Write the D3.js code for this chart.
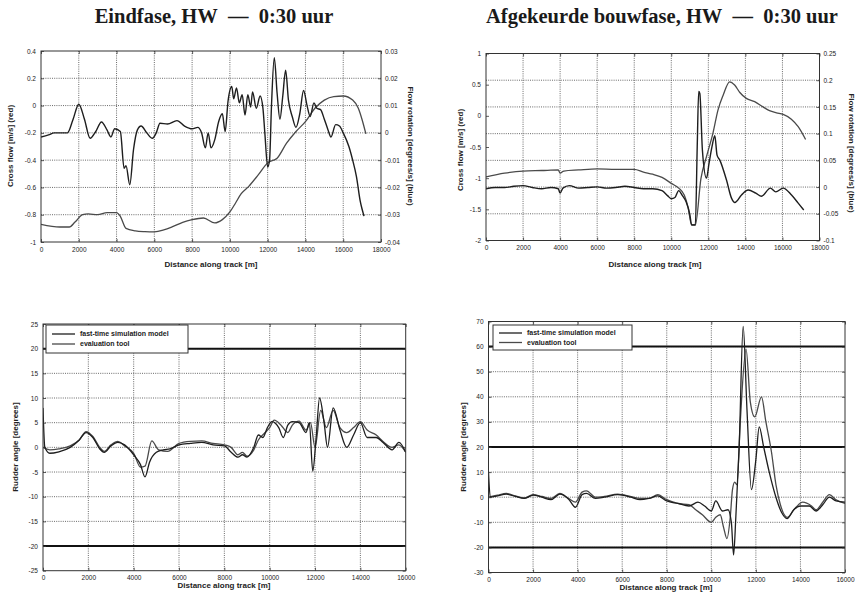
<!DOCTYPE html>
<html><head><meta charset="utf-8">
<script src="https://cdn.jsdelivr.net/npm/d3@7"></script>
<style>body{margin:0;background:#fff}svg{display:block}text{font-family:"Liberation Sans",Arial,sans-serif}</style>
</head><body><svg id="c" width="857" height="606"></svg>
<script>
// ---------- DATA ----------
const titles = ["Eindfase, HW\u2002\u2014\u20020:30 uur", "Afgekeurde bouwfase, HW\u2002\u2014\u20020:30 uur"];
const xTicks18 = [0,2000,4000,6000,8000,10000,12000,14000,16000,18000];
const xTicks16 = [0,2000,4000,6000,8000,10000,12000,14000,16000];
const tlLeftTicks = [0.4,0.2,0,-0.2,-0.4,-0.6,-0.8,-1];
const tlRightTicks = [0.03,0.02,0.01,0,-0.01,-0.02,-0.03,-0.04];
const trLeftTicks = [1,0.5,0,-0.5,-1,-1.5,-2];
const trRightTicks = [0.25,0.2,0.15,0.1,0.05,0,-0.05,-0.1];
const blTicks = [25,20,15,10,5,0,-5,-10,-15,-20,-25];
const brTicks = [70,60,50,40,30,20,10,0,-10,-20,-30];
const blLimits = [20,-20];
const brLimits = [60,20,-20];
const legendNames = ["fast-time simulation model","evaluation tool"];

// Top-left: cross flow (m/s) and flow rotation (deg/s)
const tlCrossDist = [0,400,700,1000,1400,1700,2000,2300,2600,2900,3200,3500,3700,3900,4200,4400,4500,4700,4900,5100,5300,5600,5900,6100,6300,6700,7200,7600,8000,8300,8500,8700,8850,9000,9200,9400,9600,9750,9900,10100,10200,10350,10500,10650,10800,10950,11100,11200,11400,11600,11750,11850,12000,12100,12200,12350,12500,12650,12800,12950,13100,13300,13500,13700,13900,14100,14250,14450,14600,14800,15000,15200,15350,15600,15800,16000,16300,16500,16700,16900,17000,17100];
const tlCross = [-0.23,-0.215,-0.2,-0.2,-0.2,-0.1,0.01,-0.1,-0.24,-0.19,-0.12,-0.18,-0.23,-0.17,-0.19,-0.46,-0.44,-0.58,-0.32,-0.18,-0.15,-0.2,-0.24,-0.2,-0.13,-0.135,-0.11,-0.15,-0.17,-0.16,-0.2,-0.31,-0.2,-0.31,-0.25,-0.12,-0.06,-0.19,0.03,0.14,0.05,0.13,0.02,0.08,-0.07,0.08,-0.01,0.1,-0.02,0.07,-0.02,-0.2,-0.45,-0.4,-0.01,0.35,0.09,-0.1,0.07,0.26,0.04,-0.08,-0.16,-0.06,0.11,-0.01,-0.08,0.02,-0.02,-0.03,-0.1,-0.18,-0.23,-0.14,-0.15,-0.2,-0.3,-0.4,-0.52,-0.7,-0.76,-0.81];
const tlRotDist = [0,1000,1500,1800,2200,2500,3000,3500,4000,4200,4500,5000,5500,6000,6500,7000,7500,8000,8600,9200,9600,10000,10300,10600,11000,11500,12000,12500,13000,13500,14000,14500,15000,15500,16000,16500,16800,17000,17200];
const tlRot = [-0.0335,-0.0345,-0.0345,-0.0327,-0.030,-0.0297,-0.030,-0.0292,-0.0292,-0.0306,-0.035,-0.0359,-0.0362,-0.0363,-0.0356,-0.0343,-0.0328,-0.0318,-0.0312,-0.033,-0.0318,-0.029,-0.0257,-0.0223,-0.0196,-0.0154,-0.011,-0.0093,-0.0038,0.0005,0.0041,0.009,0.012,0.0133,0.0135,0.012,0.009,0.0048,-0.0004];

// Top-right
const trCrossDist = [0,500,1000,1500,2000,2500,3000,3500,3900,4000,4150,4500,5000,5500,6000,6500,7000,7500,8000,8500,9000,9500,9800,10000,10200,10400,10600,10800,11000,11100,11300,11400,11480,11540,11680,11900,12040,12200,12350,12470,12620,12980,13250,13430,13790,14150,14560,14870,15350,15640,16040,16490,16850,17150];
const trCross = [-1.17,-1.15,-1.15,-1.13,-1.12,-1.15,-1.17,-1.15,-1.17,-1.24,-1.16,-1.12,-1.16,-1.15,-1.14,-1.16,-1.15,-1.13,-1.15,-1.17,-1.17,-1.2,-1.28,-1.33,-1.31,-1.2,-1.28,-1.38,-1.58,-1.75,-1.75,-0.5,0.39,0.36,-0.55,-1.0,-0.76,-0.49,-0.32,-0.63,-0.71,-1.03,-1.32,-1.39,-1.27,-1.19,-1.24,-1.29,-1.16,-1.22,-1.16,-1.27,-1.40,-1.51];
const trRotDist = [0,1000,2000,3000,3900,4000,4200,5000,6000,7000,8000,8500,9000,9500,10000,10400,10700,10900,11100,11300,11600,11900,12250,12520,12800,13150,13420,13700,14050,14500,14950,15300,15680,16040,16480,16850,17250];
const trRot = [0.019,0.026,0.030,0.031,0.032,0.026,0.030,0.032,0.034,0.033,0.033,0.028,0.024,0.018,0.007,-0.002,-0.015,-0.037,-0.071,-0.071,0.016,0.057,0.101,0.144,0.172,0.197,0.191,0.177,0.166,0.160,0.150,0.143,0.139,0.136,0.127,0.113,0.089];

// Bottom-left: rudder angle
const blModelDist = [0,80,300,700,1200,1600,1900,2200,2500,2700,3000,3300,3600,4000,4300,4500,4700,5000,5300,5600,6000,6500,7000,7500,8000,8300,8600,8800,9000,9300,9500,9700,9900,10100,10400,10600,10800,11000,11300,11600,11750,11900,12050,12200,12400,12550,12800,13100,13400,13700,14000,14300,14700,15000,15400,15700,16000];
const blModel = [8,0,-1.2,-0.9,0,1.5,3,2,-0.3,-1,0.3,1,0.5,-1.5,-3.5,-6,-3,-1,-0.5,-0.3,0.5,0.8,1,0.5,0.3,-1,-2,-1.5,-2,0,2.5,2,4,5.2,4,2,4.5,5.2,5,3,5,-4.8,2,10,5,0,8,3.5,0,2.5,5,2,2,1,-0.5,1,-1];
const blEvalDist = [0,300,700,1200,1600,1900,2200,2500,2700,3000,3300,3600,4000,4300,4500,4800,5100,5500,6000,6500,7000,7500,8000,8300,8600,8800,9000,9300,9500,9800,10000,10200,10500,10800,11000,11300,11600,11800,12000,12250,12500,12800,13100,13400,13700,14000,14300,14700,15000,15400,15700,16000];
const blEval = [0,-0.5,-0.3,0.3,1.5,3.2,2.2,0,-0.8,0.5,1.2,0.3,-1.2,-4,-3.8,1.3,-0.5,-0.8,0.8,1.2,1.3,0.8,0.5,0,-1.5,-1,-1.8,-0.5,1.5,3,4,5.5,4.5,3,4.5,5.3,3.5,5,0,7.5,4,7.5,4,3,4,5.2,3.5,2.5,1.2,0,0.5,-1];

// Bottom-right: rudder angle
const brModelDist = [0,80,400,800,1200,1600,2000,2400,2800,3200,3600,3900,4200,4400,4800,5200,5800,6400,6800,7200,7600,8000,8500,9000,9400,9700,10000,10200,10500,10750,10900,11000,11100,11250,11430,11600,11800,12000,12150,12350,12600,12900,13150,13400,13700,14000,14400,14700,15000,15300,15600,16000];
const brModel = [10,0,0.5,1.2,0.3,-0.5,0.8,0,-1,1.2,-0.8,-4,1,1.5,-0.5,0,1,0,-1,-0.5,0.5,-1.5,-2.5,-3.5,-2,-3.5,-5.5,-1.5,-5.5,-5,-10,-23,-8,20,68,35,3,15,28,20,10,0,-6,-8.5,-5,-3.5,-3.5,-5.5,-3,0,-1.5,-2];
const brEvalDist = [0,400,800,1200,1600,2000,2400,2800,3200,3600,3900,4200,4400,4800,5200,5800,6400,6800,7200,7600,8000,8500,9000,9300,9600,10000,10200,10400,10550,10700,10850,10950,11050,11150,11300,11560,11750,11950,12250,12450,12700,12900,13100,13400,13800,14100,14500,14700,15000,15300,15600,16000];
const brEval = [0,0.8,1.5,0.5,-0.3,1,0.3,-0.5,1.5,-0.5,-2,2,2.5,0,0.3,1.2,0.2,-0.5,-0.5,1,-1,-2.5,-3,-5,-7,-10,-8,-7,-12,-16.5,-8,3,6,5,30,59,38,32,40,30,18,5,-3,-8,-4,-2,-3.5,-5,-2,1,-1,-2.5];

// ---------- DRAWING ----------
const svg = d3.select('#c');
svg.append('rect').attr('width',857).attr('height',606).attr('fill','#fff');
const DARK = '#1e1e1e', GRAY = '#4a4a4a', AX = '#333';
const fmt = d => String(+(+d).toFixed(4));
let clipId = 0;

function panel(o){
  const g = svg.append('g');
  const x = d3.scaleLinear().domain([o.xTicks[0], o.xTicks[o.xTicks.length-1]]).range([o.left,o.right]);
  const y = d3.scaleLinear().domain([o.yTicks[o.yTicks.length-1], o.yTicks[0]]).range([o.bottom,o.top]);
  const y2 = o.y2Ticks ? d3.scaleLinear().domain([o.y2Ticks[o.y2Ticks.length-1], o.y2Ticks[0]]).range([o.bottom,o.top]) : null;
  const W = o.right-o.left, H = o.bottom-o.top;

  // grid
  const gy = o.gridY2 ? y2 : y;
  const gTicks = (o.gridY2 ? o.y2Ticks : o.yTicks).slice(1,-1);
  const grid = g.append('g').attr('stroke','#444').attr('stroke-width',0.8).attr('stroke-dasharray','1,1.2');
  grid.selectAll('.vx').data(o.xTicks.slice(1,-1)).join('line')
    .attr('x1',d=>x(d)).attr('x2',d=>x(d)).attr('y1',o.top).attr('y2',o.bottom);
  grid.selectAll('.hy').data(gTicks).join('line')
    .attr('x1',o.left).attr('x2',o.right).attr('y1',d=>gy(d)).attr('y2',d=>gy(d));

  // limit lines
  if (o.limits) {
    g.append('g').selectAll('line').data(o.limits).join('line')
      .attr('x1',o.left).attr('x2',o.right).attr('y1',d=>y(d)).attr('y2',d=>y(d))
      .attr('stroke','#111').attr('stroke-width',2);
  }

  // axes
  const styleAxis = sel => {
    sel.select('.domain').remove();
    sel.selectAll('.tick line').attr('stroke',AX).attr('stroke-width',0.8);
    sel.selectAll('.tick text').attr('fill','#222').style('font-size','6.5px').style('font-family','"Liberation Sans",Arial,sans-serif');
  };
  g.append('g').attr('transform',`translate(0,${o.bottom})`)
    .call(d3.axisBottom(x).tickValues(o.xTicks).tickFormat(fmt).tickSizeInner(-3).tickSizeOuter(0).tickPadding(5)).call(styleAxis);
  g.append('g').attr('transform',`translate(0,${o.top})`)
    .call(d3.axisTop(x).tickValues(o.xTicks).tickFormat('').tickSizeInner(-3).tickSizeOuter(0)).call(styleAxis);
  g.append('g').attr('transform',`translate(${o.left},0)`)
    .call(d3.axisLeft(y).tickValues(o.yTicks).tickFormat(fmt).tickSizeInner(-3).tickSizeOuter(0).tickPadding(5)).call(styleAxis);
  if (y2) {
    g.append('g').attr('transform',`translate(${o.right},0)`)
      .call(d3.axisRight(y2).tickValues(o.y2Ticks).tickFormat(fmt).tickSizeInner(-3).tickSizeOuter(0).tickPadding(4)).call(styleAxis);
  } else {
    g.append('g').attr('transform',`translate(${o.right},0)`)
      .call(d3.axisRight(y).tickValues(o.yTicks).tickFormat('').tickSizeInner(-3).tickSizeOuter(0)).call(styleAxis);
  }

  // series
  const id = 'clip'+(clipId++);
  svg.append('clipPath').attr('id',id).append('rect').attr('x',o.left).attr('y',o.top).attr('width',W).attr('height',H);
  const sg = g.append('g').attr('clip-path',`url(#${id})`);
  o.series.forEach(s => {
    const sc = s.right ? y2 : y;
    const pts = s.dist.map((d,i)=>[d,s.vals[i]]);
    const line = d3.line().x(p=>x(p[0])).y(p=>sc(p[1])).curve(d3.curveMonotoneX);
    sg.append('path').attr('d',line(pts)).attr('fill','none')
      .attr('stroke',s.color).attr('stroke-width',s.width||1.3).attr('stroke-linejoin','round');
  });

  // frame
  g.append('rect').attr('x',o.left).attr('y',o.top).attr('width',W).attr('height',H)
    .attr('fill','none').attr('stroke',AX).attr('stroke-width',1);

  // legend
  if (o.legend) {
    const L = o.legend;
    const lg = g.append('g');
    lg.append('rect').attr('x',L.x).attr('y',L.y).attr('width',L.w).attr('height',L.h)
      .attr('fill','#fff').attr('stroke',AX).attr('stroke-width',1);
    legendNames.forEach((n,i)=>{
      const yy = L.y + L.row0 + i*L.dy;
      lg.append('line').attr('x1',L.x+6).attr('x2',L.x+29).attr('y1',yy).attr('y2',yy)
        .attr('stroke', i===0?DARK:GRAY).attr('stroke-width',1.3);
      lg.append('text').attr('x',L.x+34).attr('y',yy).attr('dy','0.35em')
        .style('font-size','7px').style('font-weight','bold').attr('fill','#222').text(n);
    });
  }

  // axis titles
  const t = o.titles;
  g.append('text').attr('x',t.x[0]).attr('y',t.x[1]).attr('text-anchor','middle')
    .style('font-size','8px').style('font-weight','bold').attr('fill','#222').text(t.x[2]);
  g.append('text').attr('transform',`translate(${t.yl[0]},${t.yl[1]}) rotate(-90)`).attr('text-anchor','middle').attr('dy','0.35em')
    .style('font-size','8px').style('font-weight','bold').attr('fill','#222').text(t.yl[2]);
  if (t.yr) {
    g.append('text').attr('transform',`translate(${t.yr[0]},${t.yr[1]}) rotate(90)`).attr('text-anchor','middle').attr('dy','0.35em')
      .style('font-size','8px').style('font-weight','bold').attr('fill','#222').text(t.yr[2]);
  }
}

// main titles
svg.selectAll('.mt').data(titles).join('text')
  .attr('x',(d,i)=>[214,662][i]).attr('y',23).attr('text-anchor','middle')
  .style('font-family','"Liberation Serif","Times New Roman",serif').style('font-weight','bold').style('font-size','20.5px')
  .attr('fill','#1a1a1a').text(d=>d);

const distLabel = 'Distance along track [m]';
panel({left:41,right:381,top:51,bottom:242, xTicks:xTicks18, yTicks:tlLeftTicks, y2Ticks:tlRightTicks, gridY2:false,
  series:[{dist:tlRotDist, vals:tlRot, right:true, color:GRAY, width:1.3},{dist:tlCrossDist, vals:tlCross, color:DARK, width:1.4}],
  titles:{x:[211,267,distLabel], yl:[10,146,'Cross flow [m/s] (red)'], yr:[411,146,'Flow rotation [degrees/s] (blue)']}});
panel({left:486,right:819.5,top:53.5,bottom:240.5, xTicks:xTicks18, yTicks:trLeftTicks, y2Ticks:trRightTicks, gridY2:true,
  series:[{dist:trRotDist, vals:trRot, right:true, color:GRAY, width:1.3},{dist:trCrossDist, vals:trCross, color:DARK, width:1.4}],
  titles:{x:[655,267,distLabel], yl:[460,150,'Cross flow [m/s] (red)'], yr:[852,153,'Flow rotation [degrees/s] (blue)']}});
panel({left:43,right:405.7,top:324,bottom:570.7, xTicks:xTicks16, yTicks:blTicks, limits:blLimits,
  series:[{dist:blEvalDist, vals:blEval, color:GRAY},{dist:blModelDist, vals:blModel, color:DARK}],
  legend:{x:46,y:325,w:142,h:28,row0:9,dy:10},
  titles:{x:[224,588,distLabel], yl:[15,447,'Rudder angle [degrees]']}});
panel({left:488.5,right:845,top:321.5,bottom:572.5, xTicks:xTicks16, yTicks:brTicks, limits:brLimits,
  series:[{dist:brEvalDist, vals:brEval, color:GRAY},{dist:brModelDist, vals:brModel, color:DARK}],
  legend:{x:493,y:325,w:139,h:25,row0:8,dy:9.5},
  titles:{x:[666,590,distLabel], yl:[463,447,'Rudder angle [degrees]']}});
</script></body></html>
